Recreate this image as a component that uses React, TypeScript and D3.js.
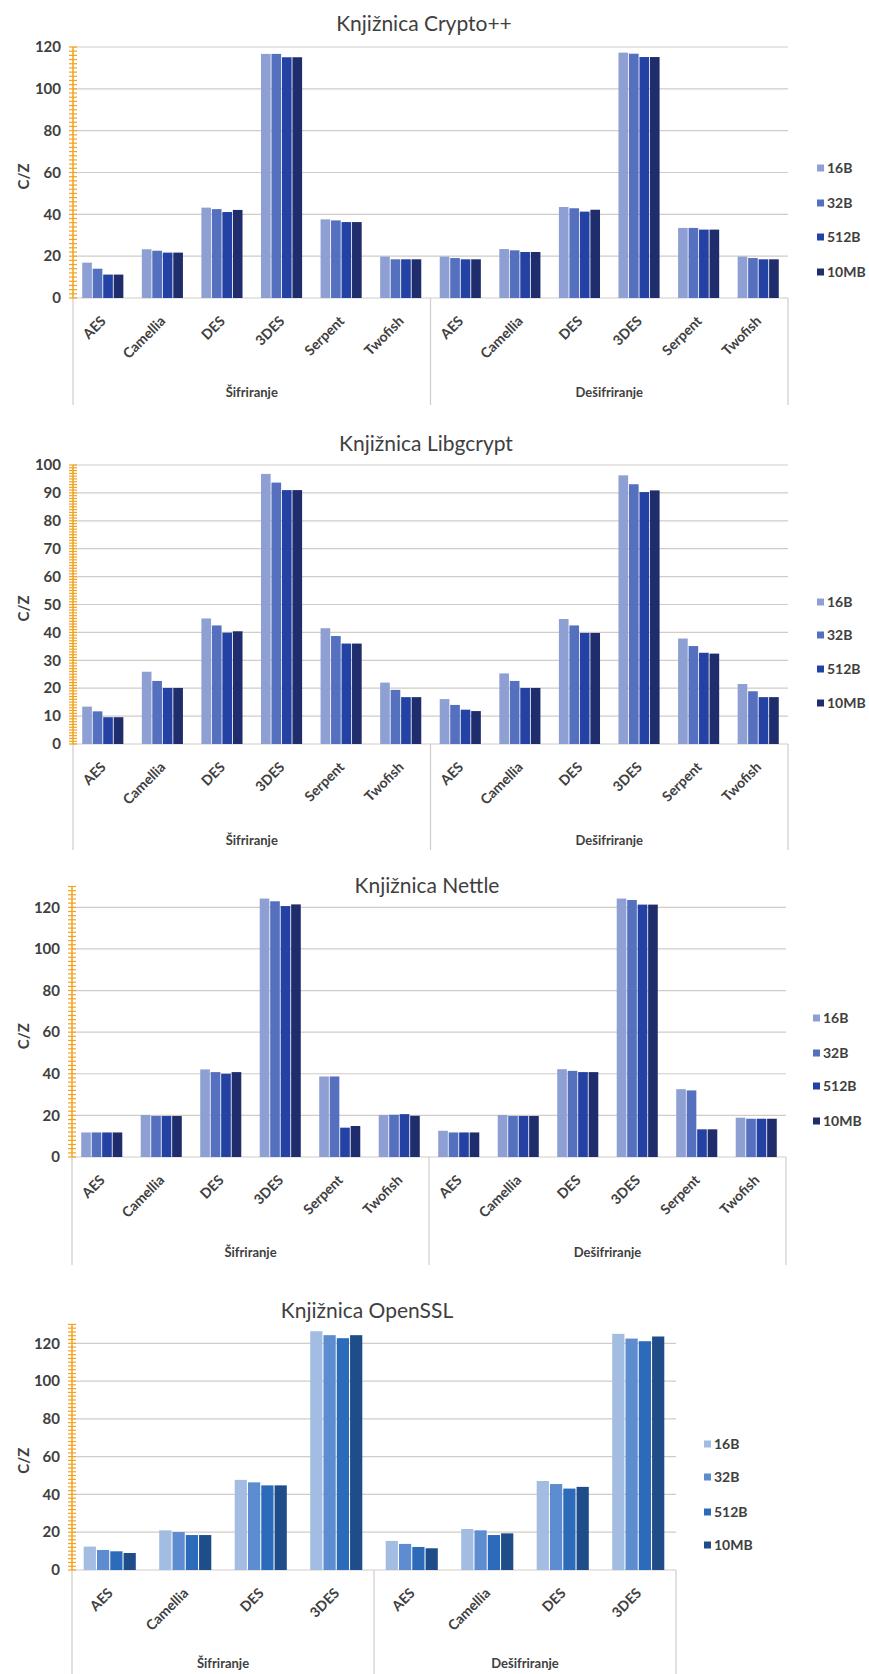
import React from "react";
import * as d3 from "d3";

const seriesNames = ["16B", "32B", "512B", "10MB"];
const groupNames = ["Šifriranje", "Dešifriranje"];
const ciphers6 = ["AES", "Camellia", "DES", "3DES", "Serpent", "Twofish"];
const ciphers4 = ["AES", "Camellia", "DES", "3DES"];
const ticks120 = [0, 20, 40, 60, 80, 100, 120];
const ticks100 = [0, 10, 20, 30, 40, 50, 60, 70, 80, 90, 100];

// Crypto++ (6 Šifriranje, then 6 Dešifriranje)
const crypto16B = [16.9, 23.3, 43.2, 116.7, 37.6, 19.8, 19.8, 23.4, 43.5, 117.3, 33.5, 19.8];
const crypto32B = [14.0, 22.6, 42.5, 116.7, 37.1, 18.5, 19.1, 22.8, 42.9, 116.8, 33.5, 19.1];
const crypto512B = [11.2, 21.7, 41.1, 115.1, 36.3, 18.5, 18.5, 22.0, 41.3, 115.2, 32.7, 18.5];
const crypto10MB = [11.2, 21.7, 42.1, 115.1, 36.3, 18.5, 18.5, 22.0, 42.2, 115.2, 32.7, 18.5];

// Libgcrypt
const libg16B = [13.4, 25.9, 45.0, 96.8, 41.5, 22.0, 16.1, 25.3, 44.8, 96.3, 37.8, 21.5];
const libg32B = [11.7, 22.6, 42.5, 93.7, 38.7, 19.4, 14.0, 22.6, 42.5, 93.1, 35.1, 18.9];
const libg512B = [9.6, 20.1, 39.9, 91.0, 36.0, 16.8, 12.3, 20.1, 39.8, 90.3, 32.7, 16.8];
const libg10MB = [9.6, 20.1, 40.4, 91.0, 36.0, 16.8, 11.8, 20.1, 39.8, 90.9, 32.4, 16.8];

// Nettle
const nettle16B = [11.8, 20.2, 42.1, 124.2, 38.7, 20.2, 12.6, 20.2, 42.2, 124.2, 32.6, 18.9];
const nettle32B = [11.8, 19.7, 40.8, 122.9, 38.7, 20.3, 11.8, 19.7, 41.4, 123.5, 32.0, 18.4];
const nettle512B = [11.8, 19.7, 40.0, 120.6, 14.1, 20.6, 11.8, 19.7, 40.8, 121.3, 13.3, 18.4];
const nettle10MB = [11.8, 19.7, 40.8, 121.4, 14.9, 19.8, 11.8, 19.7, 40.8, 121.3, 13.3, 18.4];

// OpenSSL (4 Šifriranje, then 4 Dešifriranje)
const ossl16B = [12.4, 21.0, 47.7, 126.4, 15.4, 21.7, 47.1, 125.0];
const ossl32B = [10.6, 20.1, 46.4, 124.3, 13.8, 21.0, 45.5, 122.5];
const ossl512B = [9.9, 18.5, 44.8, 122.7, 12.2, 18.5, 43.1, 121.1];
const ossl10MB = [9.0, 18.5, 44.8, 124.3, 11.5, 19.4, 44.0, 123.6];

const purpleBlues = ["#8e9fd3", "#5470bf", "#2342a3", "#1f2d6c"];
const steelBlues = ["#a3bde2", "#5d8dd0", "#2c6bb9", "#1f4d8a"];

const FONT = "Lato, 'Open Sans', sans-serif";
const TEXT = "#404040";
const GRID = "#d3cbc6";
const AXIS = "#f2a31e";

type ChartProps = {
  title: string;
  titleX: number;
  titleY: number;
  cats: string[];
  values: number[][];
  colors: string[];
  left: number;
  right: number;
  y0: number;
  yTop: number;
  yMax: number;
  ticks: number[];
  minorStep: number;
  groupLabelY: number;
  sepBottom: number;
  legendX: number;
  legendYs: number[];
};

function BarChart(p: ChartProps) {
  const y = d3.scaleLinear().domain([0, p.yMax]).range([p.y0, p.yTop]);
  const keys = groupNames.flatMap((g) => p.cats.map((c) => g + "|" + c));
  const x = d3
    .scaleBand<string>()
    .domain(keys)
    .range([p.left, p.right])
    .paddingInner(0.31)
    .paddingOuter(0.155);
  const xs = d3
    .scaleBand<string>()
    .domain(seriesNames)
    .range([0, x.bandwidth()])
    .paddingInner(0.08);
  const mid = (p.left + p.right) / 2;
  const minor = d3.range(0, p.yMax + 0.001, p.minorStep);
  const yLab = (p.y0 + y(p.ticks[p.ticks.length - 1])) / 2 + 4;
  return (
    <g>
      <text
        x={p.titleX}
        y={p.titleY}
        textAnchor="middle"
        fontFamily={FONT}
        fontSize={21}
        fill={TEXT}
      >
        {p.title}
      </text>
      {p.ticks.map((t) => (
        <line
          key={"g" + t}
          x1={p.left}
          x2={p.right}
          y1={y(t)}
          y2={y(t)}
          stroke={GRID}
          strokeWidth={1.2}
        />
      ))}
      {[p.left, mid, p.right].map((sx, i) => (
        <line
          key={"s" + i}
          x1={sx}
          x2={sx}
          y1={p.y0}
          y2={p.sepBottom}
          stroke={GRID}
          strokeWidth={1.2}
        />
      ))}
      {seriesNames.map((s, si) =>
        keys.map((k, ki) => {
          const v = p.values[si][ki];
          return (
            <rect
              key={s + k}
              x={(x(k) as number) + (xs(s) as number)}
              y={y(v)}
              width={xs.bandwidth()}
              height={p.y0 - y(v)}
              fill={p.colors[si]}
            />
          );
        })
      )}
      <line x1={p.left} x2={p.left} y1={p.y0} y2={p.yTop} stroke={AXIS} strokeWidth={1.5} />
      {minor.map((m) => (
        <line
          key={"m" + m}
          x1={p.left - 4}
          x2={p.left + 4}
          y1={y(m)}
          y2={y(m)}
          stroke={AXIS}
          strokeWidth={1.2}
        />
      ))}
      {p.ticks.map((t) => (
        <text
          key={"t" + t}
          x={p.left - 12}
          y={y(t)}
          dy="0.35em"
          textAnchor="end"
          fontFamily={FONT}
          fontWeight={700}
          fontSize={15}
          fill={TEXT}
        >
          {t}
        </text>
      ))}
      <g transform={`translate(24, ${yLab}) rotate(-90)`}>
        <text
          x={0}
          y={0}
          textAnchor="middle"
          dy="0.35em"
          fontFamily={FONT}
          fontWeight={700}
          fontSize={15}
          fill={TEXT}
        >
          C/Z
        </text>
      </g>
      {keys.map((k) => {
        const cx = (x(k) as number) + x.bandwidth() / 2 + 4;
        const cy = p.y0 + 24;
        return (
          <g key={"c" + k} transform={`translate(${cx}, ${cy}) rotate(-45)`}>
            <text
              x={0}
              y={0}
              textAnchor="end"
              fontFamily={FONT}
              fontWeight={700}
              fontSize={14}
              fill={TEXT}
            >
              {k.split("|")[1]}
            </text>
          </g>
        );
      })}
      {groupNames.map((g, gi) => (
        <text
          key={"gr" + g}
          x={gi === 0 ? (p.left + mid) / 2 : (mid + p.right) / 2}
          y={p.groupLabelY}
          dy="0.35em"
          textAnchor="middle"
          fontFamily={FONT}
          fontWeight={700}
          fontSize={13}
          fill={TEXT}
        >
          {g}
        </text>
      ))}
      {seriesNames.map((s, si) => (
        <g key={"l" + s}>
          <rect x={p.legendX} y={p.legendYs[si] - 3.5} width={7} height={7} fill={p.colors[si]} />
          <text
            x={p.legendX + 10}
            y={p.legendYs[si]}
            dy="0.35em"
            fontFamily={FONT}
            fontWeight={700}
            fontSize={14}
            fill={TEXT}
          >
            {s}
          </text>
        </g>
      ))}
    </g>
  );
}

export default function App() {
  return (
    <svg
      width={869}
      height={1674}
      style={{ position: "absolute", left: 0, top: 0, background: "#ffffff" }}
    >
      <rect x={0} y={0} width={869} height={1674} fill="#ffffff" />
      <BarChart
        title="Knjižnica Crypto++"
        titleX={424}
        titleY={31}
        cats={ciphers6}
        values={[crypto16B, crypto32B, crypto512B, crypto10MB]}
        colors={purpleBlues}
        left={73}
        right={788}
        y0={298}
        yTop={47}
        yMax={120}
        ticks={ticks120}
        minorStep={2}
        groupLabelY={392}
        sepBottom={405}
        legendX={817}
        legendYs={[168, 203, 237, 272]}
      />
      <BarChart
        title="Knjižnica Libgcrypt"
        titleX={426}
        titleY={451}
        cats={ciphers6}
        values={[libg16B, libg32B, libg512B, libg10MB]}
        colors={purpleBlues}
        left={73}
        right={788}
        y0={744}
        yTop={465}
        yMax={100}
        ticks={ticks100}
        minorStep={1}
        groupLabelY={840}
        sepBottom={850}
        legendX={817}
        legendYs={[602, 635, 669, 703]}
      />
      <BarChart
        title="Knjižnica Nettle"
        titleX={427}
        titleY={893}
        cats={ciphers6}
        values={[nettle16B, nettle32B, nettle512B, nettle10MB]}
        colors={purpleBlues}
        left={72}
        right={786}
        y0={1157}
        yTop={886.5}
        yMax={130}
        ticks={ticks120}
        minorStep={2}
        groupLabelY={1252}
        sepBottom={1265}
        legendX={813}
        legendYs={[1018, 1053, 1086, 1121]}
      />
      <BarChart
        title="Knjižnica OpenSSL"
        titleX={367}
        titleY={1318}
        cats={ciphers4}
        values={[ossl16B, ossl32B, ossl512B, ossl10MB]}
        colors={steelBlues}
        left={72}
        right={676}
        y0={1570}
        yTop={1324.4}
        yMax={130}
        ticks={ticks120}
        minorStep={2}
        groupLabelY={1663}
        sepBottom={1674}
        legendX={704}
        legendYs={[1444, 1477, 1512, 1545]}
      />
    </svg>
  );
}
